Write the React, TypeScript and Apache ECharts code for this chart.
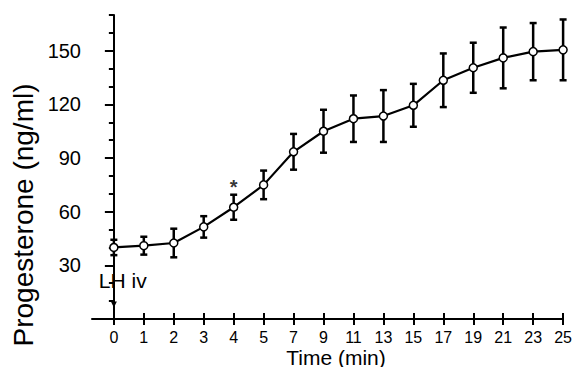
import React, { useEffect, useRef } from "react";
import * as echarts from "echarts";

const xLabels = ["0", "1", "2", "3", "4", "5", "7", "9", "11", "13", "15", "17", "19", "21", "23", "25"];
const means = [40, 41, 42.5, 51.5, 62.5, 75, 93.5, 105, 112, 113.5, 119.5, 133.5, 140.5, 146, 149.5, 150.5];
const sem = [4.3, 5, 8, 6, 7, 8, 10, 12, 13, 14.5, 12, 15, 14, 17, 16, 17];
const yMajor = [30, 60, 90, 120, 150];
const starPoint = [4, 74];
const FONT = "'Liberation Sans', Arial, Helvetica, sans-serif";

export default function App() {
  const ref = useRef<HTMLDivElement>(null);
  useEffect(() => {
    document.body.style.margin = "0";
    const chart = echarts.init(ref.current as HTMLDivElement, null, { renderer: "svg" });
    const idx = xLabels.map((_, i) => i);
    const black = "#000";
    const option: any = {
      animation: false,
      backgroundColor: "#fff",
      grid: { left: 92, right: 10, top: 15, bottom: 48, containLabel: false },
      xAxis: [
        {
          type: "value",
          min: -0.73,
          max: 15,
          axisLine: { onZero: false, lineStyle: { color: black, width: 2 } },
          axisTick: { customValues: idx, length: 6, lineStyle: { color: black, width: 2 } },
          axisLabel: {
            customValues: idx,
            formatter: (v: number) => xLabels[Math.round(v)] ?? "",
            fontSize: 16,
            lineHeight: 16,
            color: black,
            margin: 10,
            fontFamily: FONT,
          },
          splitLine: { show: false },
        },
        {
          type: "value",
          min: -0.73,
          max: 15,
          position: "bottom",
          axisLine: { show: false },
          axisTick: { customValues: idx, inside: true, length: 6, lineStyle: { color: black, width: 2 } },
          axisLabel: { show: false },
          splitLine: { show: false },
        },
      ],
      yAxis: [
        {
          type: "value",
          min: 0,
          max: 170,
          interval: 10,
          axisLine: { show: true, lineStyle: { color: black, width: 2 } },
          axisTick: { show: true, length: 5, lineStyle: { color: black, width: 2 } },
          axisLabel: {
            customValues: yMajor,
            fontSize: 20,
            color: black,
            margin: 11,
            fontFamily: FONT,
          },
          splitLine: { show: false },
        },
        {
          type: "value",
          min: 0,
          max: 170,
          position: "left",
          axisLine: { show: false },
          axisTick: { show: true, customValues: yMajor, length: 9, lineStyle: { color: black, width: 2 } },
          axisLabel: { show: false },
          splitLine: { show: false },
        },
      ],
      series: [
        {
          type: "custom",
          xAxisIndex: 0,
          yAxisIndex: 0,
          z: 2,
          data: means.map((m, i) => [i, m, sem[i]]),
          renderItem: (params: any, api: any) => {
            const x = api.value(0);
            const y = api.value(1);
            const e = api.value(2);
            const top = api.coord([x, y + e]);
            const bot = api.coord([x, y - e]);
            const w = 3.5;
            const st = { stroke: black, lineWidth: 2.5 };
            return {
              type: "group",
              children: [
                { type: "line", shape: { x1: top[0], y1: top[1], x2: bot[0], y2: bot[1] }, style: st },
                { type: "line", shape: { x1: top[0] - w, y1: top[1], x2: top[0] + w, y2: top[1] }, style: st },
                { type: "line", shape: { x1: bot[0] - w, y1: bot[1], x2: bot[0] + w, y2: bot[1] }, style: st },
              ],
            };
          },
        },
        {
          type: "line",
          xAxisIndex: 0,
          yAxisIndex: 0,
          z: 3,
          data: means.map((m, i) => [i, m]),
          symbol: "circle",
          symbolSize: 8,
          itemStyle: { color: "#fff", borderColor: black, borderWidth: 1.5 },
          lineStyle: { color: black, width: 2.2 },
        },
        {
          type: "scatter",
          xAxisIndex: 0,
          yAxisIndex: 0,
          z: 4,
          data: [starPoint],
          symbolSize: 1,
          itemStyle: { color: "rgba(0,0,0,0)" },
          label: {
            show: true,
            position: "inside",
            formatter: "*",
            fontSize: 20,
            fontWeight: "bold",
            color: black,
            fontFamily: FONT,
          },
        },
      ],
    };
    chart.setOption(option);

    const pText = chart.convertToPixel({ gridIndex: 0 }, [0, 21.5]) as number[];
    const pA1 = chart.convertToPixel({ gridIndex: 0 }, [0, 12.5]) as number[];
    const pA2 = chart.convertToPixel({ gridIndex: 0 }, [0, 6.5]) as number[];
    chart.setOption({
      graphic: [
        {
          type: "text",
          x: pText[0] - 15,
          y: pText[1],
          style: { text: "LH iv", fontSize: 21, fill: black, fontFamily: FONT, align: "left", verticalAlign: "middle" },
        },
        {
          type: "line",
          shape: { x1: pA1[0], y1: pA1[1], x2: pA2[0], y2: pA2[1] - 4 },
          style: { stroke: black, lineWidth: 1.5 },
        },
        {
          type: "polygon",
          shape: { points: [[pA2[0] - 3, pA2[1] - 6], [pA2[0] + 3, pA2[1] - 6], [pA2[0], pA2[1]]] },
          style: { fill: black },
        },
        {
          type: "text",
          x: 23,
          y: 215,
          rotation: Math.PI / 2,
          style: { text: "Progesterone (ng/ml)", fontSize: 28, fill: black, fontFamily: FONT, align: "center", verticalAlign: "middle" },
        },
        {
          type: "text",
          x: 336,
          y: 357,
          style: { text: "Time (min)", fontSize: 21, lineHeight: 21, fill: black, fontFamily: FONT, align: "center", verticalAlign: "middle" },
        },
      ],
    });
    return () => chart.dispose();
  }, []);
  return <div ref={ref} style={{ width: 575, height: 367 }} />;
}
